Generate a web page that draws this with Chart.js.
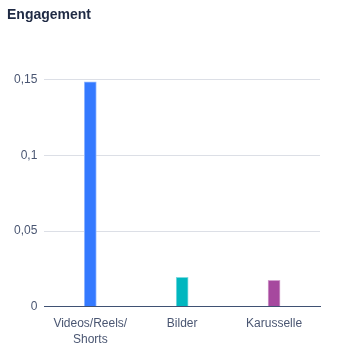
<!DOCTYPE html>
<html>
<head>
<meta charset="utf-8">
<script src="https://cdn.jsdelivr.net/npm/chart.js@4"></script>
<style>
    html, body { margin: 0; padding: 0; background: #fff; }
    #wrap { width: 340px; height: 357px; }
</style>
</head>
<body>
<div id="wrap"><canvas id="engagement-chart"></canvas></div>
<script>
// Kategorien und Werte
const categories = [["Videos/Reels/", "Shorts"], "Bilder", "Karusselle"];
const engagementValues = [0.1486, 0.0194, 0.0174];
const barColors = ["#3479ff", "#00b7bf", "#a6489e"];
const barBorders = ["#8fb6ff", "#7fdadf", "#d3a1cf"];
const yTicks = [0, 0.05, 0.1, 0.15];

const ctx = document.getElementById("engagement-chart").getContext("2d");
new Chart(ctx, {
    type: "bar",
    data: {
        labels: categories,
        datasets: [{
            label: "Engagement",
            data: engagementValues,
            backgroundColor: barColors,
            borderColor: barBorders,
            borderWidth: 1,
            barThickness: 12
        }]
    },
    options: {
        responsive: true,
        maintainAspectRatio: false,
        animation: false,
        layout: {
            padding: { top: 7, left: 7, right: 20, bottom: 8 }
        },
        plugins: {
            legend: { display: false },
            tooltip: { enabled: false },
            title: {
                display: true,
                text: "Engagement",
                align: "start",
                color: "#1f2a44",
                font: { family: "'Liberation Sans', Arial, sans-serif", size: 14, weight: "bold" },
                padding: { top: 0, bottom: 56 }
            }
        },
        scales: {
            x: {
                grid: { display: false },
                border: { color: "#3f5173", width: 1 },
                ticks: {
                    color: "#4a5672",
                    font: { family: "'Liberation Sans', Arial, sans-serif", size: 12, lineHeight: 1.35 },
                    maxRotation: 0,
                    padding: 1
                }
            },
            y: {
                min: 0,
                max: 0.15,
                afterBuildTicks: function (axis) {
                    axis.ticks = yTicks.map(v => ({ value: v }));
                },
                grid: { color: "#dcdfe6", drawTicks: false },
                border: { display: false },
                ticks: {
                    color: "#4a5672",
                    font: { family: "'Liberation Sans', Arial, sans-serif", size: 12 },
                    padding: 7,
                    callback: v => String(v).replace(".", ",")
                }
            }
        }
    }
});
</script>
</body>
</html>
